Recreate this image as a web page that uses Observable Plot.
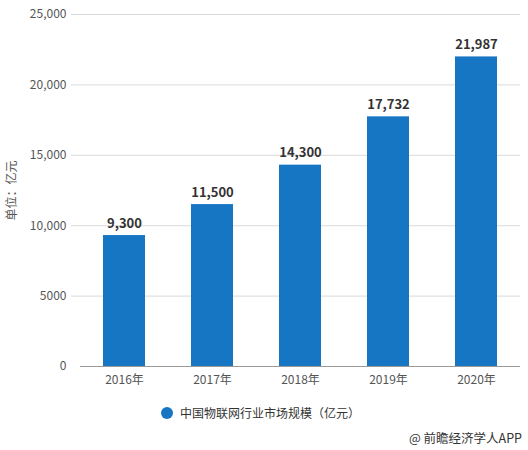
<!DOCTYPE html>
<html><head><meta charset="utf-8">
<script src="https://cdn.jsdelivr.net/npm/d3@7"></script>
<script src="https://cdn.jsdelivr.net/npm/@observablehq/plot@0.6"></script>
<style>
body{margin:0;width:528px;height:450px;background:#fff;font-family:"Noto Sans CJK SC","Noto Sans",sans-serif;position:relative;overflow:hidden}
#chart{position:absolute;left:0;top:0}
#legend{position:absolute;left:161px;top:404px;font-size:12px;color:#333;display:flex;align-items:center}
#legend span.dot{display:inline-block;width:12px;height:12px;border-radius:50%;background:#1776c4;margin-right:7px}
#caption{position:absolute;right:6px;top:428px;font-size:12.5px;color:#333}
</style></head><body>
<div id="chart"></div>
<div id="legend"><span class="dot"></span><span>中国物联网行业市场规模（亿元）</span></div>
<div id="caption">@ 前瞻经济学人APP</div>
<script>
const years = ["2016年","2017年","2018年","2019年","2020年"];
const values = [9300, 11500, 14300, 17732, 21987];
const yTicks = [0, 5000, 10000, 15000, 20000, 25000];
const yLabel = "单位：亿元";
const seriesName = "中国物联网行业市场规模（亿元）";

const data = years.map((y, i) => ({year: y, value: values[i]}));
const fmt = d => d < 10000 ? String(d) : d3.format(",")(d);

const plot = Plot.plot({
  width: 528, height: 390,
  marginLeft: 80, marginRight: 8, marginTop: 14, marginBottom: 24,
  style: {fontFamily: '"Noto Sans CJK SC","Noto Sans",sans-serif', fontSize: "12px", color: "#555"},
  x: {domain: years, paddingInner: 0.523, paddingOuter: 0.2615, label: null},
  y: {domain: [0, 25000], label: null},
  marks: [
    Plot.ruleY(yTicks.filter(d => d > 0), {stroke: "#d9d9d9", strokeWidth: 1, insetLeft: -9}),
    Plot.barY(data, {x: "year", y: "value", fill: "#1776c4"}),
    Plot.ruleY([0], {stroke: "#999", strokeWidth: 1}),
    Plot.text(data, {x: "year", y: "value", text: d => d3.format(",")(d.value), dy: -12, fontWeight: "bold", fontSize: 13, fill: "#333"}),
    Plot.axisY({ticks: yTicks, tickFormat: fmt, tickSize: 0, tickPadding: 14, fontSize: 12, fill: "#555", label: null}),
    Plot.axisX({tickSize: 0, tickPadding: 9, fontSize: 12, fill: "#555", label: null}),
    Plot.text([yLabel], {frameAnchor: "left", textAnchor: "middle", dx: -68, dy: 0, rotate: -90, fontSize: 12, fill: "#555", text: d => d})
  ]
});
document.getElementById("chart").appendChild(plot);
</script>
</body></html>
